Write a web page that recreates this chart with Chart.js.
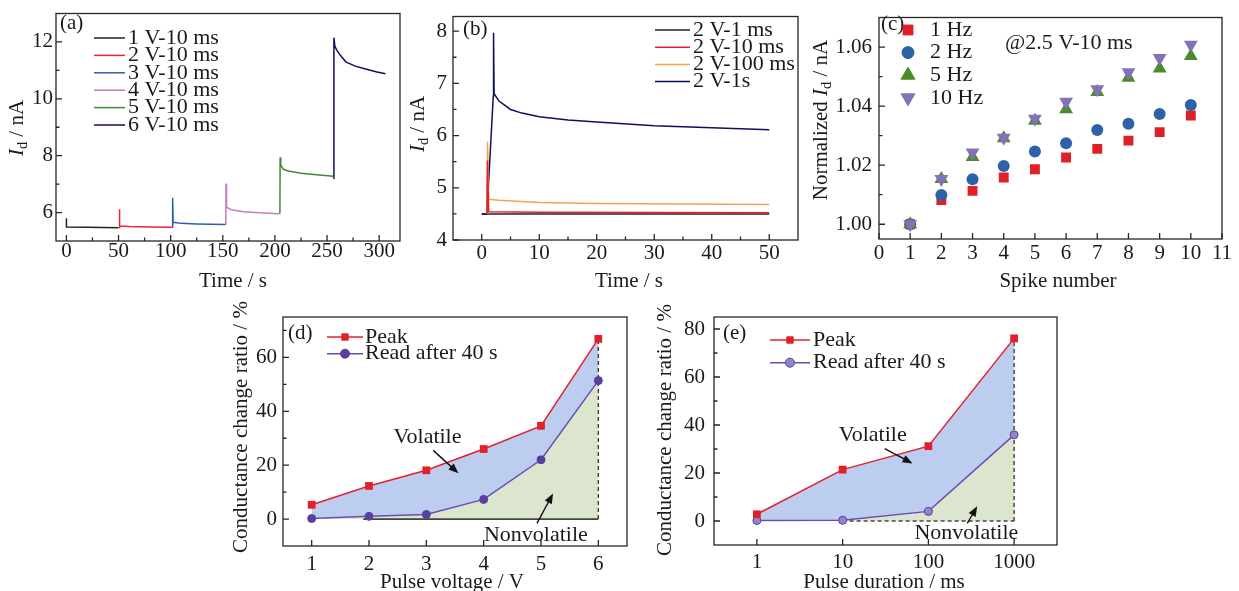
<!DOCTYPE html>
<html>
<head>
<meta charset="utf-8">
<title>Conductance figure</title>
<script src="https://cdn.jsdelivr.net/npm/chart.js@4.4.1/dist/chart.umd.min.js"></script>
<style>
  html, body { margin: 0; padding: 0; background: #fff; }
  #fig { position: relative; width: 1239px; height: 591px; overflow: hidden; }
  #fig canvas { position: absolute; left: 0; top: 0; }
</style>
</head>
<body>
<div id="fig">
  <canvas id="pa" width="1239" height="591"></canvas>
  <canvas id="pb" width="1239" height="591"></canvas>
  <canvas id="pc" width="1239" height="591"></canvas>
  <canvas id="pd" width="1239" height="591"></canvas>
  <canvas id="pe" width="1239" height="591"></canvas>
</div>
<script>
// ===========================================
// 5 panels: (a) pulse voltage, (b) pulse width, (c) spike number,
// (d)/(e) conductance change ratio (volatile / nonvolatile)
// ===========================================
const FONT = '"Liberation Serif", "Times New Roman", Times, serif';
const INK = '#1a1a1a';
const PAGE_W = 1239, PAGE_H = 591;
const TICK_SIZE = 21, TEXT_SIZE = 22, TITLE_SIZE = 21;

// ---------- (a) Id vs time, 1..6 V / 10 ms ----------
const aNames = ['1 V-10 ms', '2 V-10 ms', '3 V-10 ms', '4 V-10 ms', '5 V-10 ms', '6 V-10 ms'];
const aColors = ['#222222', '#e8262f', '#2b5fae', '#c17dbe', '#3d8b2f', '#0b115e'];
const a1T = [0, 0, 20, 50];
const a1I = [5.8, 5.49, 5.48, 5.47];
const a2T = [50.7, 50.8, 51.2, 60, 80, 101.5];
const a2I = [5.47, 6.12, 5.53, 5.51, 5.49, 5.48];
const a3T = [101.7, 101.9, 102.4, 110, 125, 152.5];
const a3I = [5.48, 6.52, 5.66, 5.62, 5.6, 5.58];
const a4T = [152.9, 153.1, 153.6, 158, 170, 185, 204.5];
const a4I = [5.57, 7.02, 6.19, 6.1, 6.03, 5.99, 5.96];
const a5T = [204.8, 205, 205.6, 208, 213, 225, 240, 256];
const a5I = [5.96, 7.94, 7.68, 7.52, 7.46, 7.38, 7.33, 7.28];
const a6T = [256.4, 256.6, 257.5, 259.5, 263, 268, 277, 287, 297, 306];
const a6I = [7.2, 12.15, 11.85, 11.7, 11.52, 11.3, 11.15, 11.05, 10.95, 10.88];
const aXTicks = [0, 50, 100, 150, 200, 250, 300];
const aXMinor = [25, 75, 125, 175, 225, 275];
const aYTicks = [6, 8, 10, 12];
const aYMinor = [7, 9, 11];

// ---------- (b) Id vs time, 2 V / 1 ms..1 s ----------
const bNames = ['2 V-1 ms', '2 V-10 ms', '2 V-100 ms', '2 V-1s'];
const bColors = ['#222222', '#e3202a', '#f7a24a', '#0b115e'];
const b1T = [0, 50];
const b1I = [4.5, 4.5];
const b2T = [0.9, 1.0, 1.2, 10, 50];
const b2I = [4.5, 5.52, 4.54, 4.53, 4.52];
const b3T = [0.9, 1.0, 1.2, 3, 10, 20, 35, 50];
const b3I = [4.5, 5.88, 4.78, 4.76, 4.72, 4.7, 4.69, 4.68];
const b4T = [0, 0.9, 2.0, 2.05, 2.15, 3, 5, 7, 10, 15, 20, 30, 40, 50];
const b4I = [4.5, 4.5, 6.75, 7.97, 6.8, 6.66, 6.5, 6.43, 6.36, 6.3, 6.26, 6.19, 6.15, 6.11];
const bXTicks = [0, 10, 20, 30, 40, 50];
const bXMinor = [5, 15, 25, 35, 45];
const bYTicks = [4, 5, 6, 7, 8];
const bYMinor = [4.5, 5.5, 6.5, 7.5];

// ---------- (c) normalized Id vs spike number ----------
const cNames = ['1 Hz', '2 Hz', '5 Hz', '10 Hz'];
const cColors = ['#e01f26', '#2e62a8', '#4c8b2b', '#8471b9'];
const cSpike = [1, 2, 3, 4, 5, 6, 7, 8, 9, 10];
const c1Hz = [1.000, 1.0082, 1.0113, 1.0158, 1.0186, 1.0226, 1.0255, 1.0283, 1.0312, 1.0368];
const c2Hz = [1.000, 1.0099, 1.0152, 1.0197, 1.0246, 1.0274, 1.0319, 1.0340, 1.0373, 1.0404];
const c5Hz = [1.000, 1.0153, 1.0228, 1.0291, 1.0350, 1.0389, 1.0448, 1.0496, 1.0527, 1.0570];
const c10Hz = [1.000, 1.0153, 1.0243, 1.0293, 1.0357, 1.0415, 1.0457, 1.0515, 1.0563, 1.0608];
const cXTicks = [0, 1, 2, 3, 4, 5, 6, 7, 8, 9, 10, 11];
const cYTicks = [1.00, 1.02, 1.04, 1.06];
const cYMinor = [1.01, 1.03, 1.05];

// ---------- (d) ratio vs pulse voltage ----------
const dVolt = [1, 2, 3, 4, 5, 6];
const dPeak = [5.3, 12.3, 18.1, 26.0, 34.6, 66.9];
const dRead = [0.2, 1.0, 1.7, 7.3, 22.0, 51.4];
const dXTicks = [1, 2, 3, 4, 5, 6];
const dYTicks = [0, 20, 40, 60];
const dYMinor = [10, 30, 50, 70];

// ---------- (e) ratio vs pulse duration ----------
const eDur = [1, 10, 100, 1000];
const ePeak = [2.8, 21.4, 31.2, 76.1];
const eRead = [0.2, 0.3, 4.0, 35.9];
const eXTicks = [1, 10, 100, 1000];
const eYTicks = [0, 20, 40, 60, 80];
const eYMinor = [10, 30, 50, 70];

const RED = '#e3202a';
const PURPLE = '#6550ad';
const BLUE_FILL = 'rgb(189,205,240)';
const GREEN_FILL = 'rgb(220,230,207)';

const xy = (xs, ys) => xs.map((x, i) => ({ x, y: ys[i] }));

// rich text: segments {t, i (italic), sub}
function rich(ctx, segs, x, y, size, align, rot) {
    const parts = typeof segs === 'string' ? [{ t: segs }] : segs;
    const fontOf = s => (s.i ? 'italic ' : '') + (s.sub ? size * 0.68 : size) + 'px ' + FONT;
    let w = 0;
    parts.forEach(s => { ctx.font = fontOf(s); s.w = ctx.measureText(s.t).width; w += s.w; });
    ctx.save();
    ctx.translate(x, y);
    if (rot) ctx.rotate(rot);
    let cx = align === 'left' ? 0 : align === 'right' ? -w : -w / 2;
    ctx.textAlign = 'left';
    ctx.textBaseline = 'middle';
    ctx.fillStyle = INK;
    parts.forEach(s => { ctx.font = fontOf(s); ctx.fillText(s.t, cx, s.sub ? size * 0.28 : 0); cx += s.w; });
    ctx.restore();
}

function arrow(ctx, x1, y1, x2, y2) {
    const ang = Math.atan2(y2 - y1, x2 - x1), hl = 10, hw = 4;
    ctx.strokeStyle = '#111'; ctx.fillStyle = '#111'; ctx.lineWidth = 1.4; ctx.setLineDash([]);
    ctx.beginPath();
    ctx.moveTo(x1, y1);
    ctx.lineTo(x2 - Math.cos(ang) * hl * 0.8, y2 - Math.sin(ang) * hl * 0.8);
    ctx.stroke();
    ctx.beginPath();
    ctx.moveTo(x2, y2);
    ctx.lineTo(x2 - Math.cos(ang) * hl + Math.sin(ang) * hw, y2 - Math.sin(ang) * hl - Math.cos(ang) * hw);
    ctx.lineTo(x2 - Math.cos(ang) * hl - Math.sin(ang) * hw, y2 - Math.sin(ang) * hl + Math.cos(ang) * hw);
    ctx.closePath();
    ctx.fill();
}

function marker(ctx, style, rotation, radius, x, y) {
    if (Chart.helpers && Chart.helpers.drawPoint) {
        Chart.helpers.drawPoint(ctx, { pointStyle: style, rotation: rotation || 0, radius, borderWidth: 1 }, x, y);
    } else {
        ctx.beginPath(); ctx.arc(x, y, radius, 0, Math.PI * 2); ctx.fill();
    }
}

// frame, inner ticks, titles, legend, annotations
const deco = {
    id: 'deco',
    afterDraw(chart, args, o) {
        const ctx = chart.ctx, a = chart.chartArea;
        const sx = chart.scales.x, sy = chart.scales.y;
        ctx.save();
        ctx.strokeStyle = '#262626';
        ctx.lineWidth = 1.3;
        ctx.strokeRect(a.left, a.top, a.right - a.left, a.bottom - a.top);
        ctx.beginPath();
        const xt = (v, len) => { const p = sx.getPixelForValue(v); ctx.moveTo(p, a.bottom); ctx.lineTo(p, a.bottom - len); };
        const yt = (v, len) => { const p = sy.getPixelForValue(v); ctx.moveTo(a.left, p); ctx.lineTo(a.left + len, p); };
        sx.ticks.forEach(t => xt(t.value, 6));
        sy.ticks.forEach(t => yt(t.value, 6));
        (o.minorX || []).forEach(v => xt(v, 3.5));
        (o.minorY || []).forEach(v => yt(v, 3.5));
        ctx.stroke();

        rich(ctx, o.tag.t, o.tag.x, o.tag.y, TITLE_SIZE, 'left');
        rich(ctx, o.xTitle.t, o.xTitle.x, o.xTitle.y, TITLE_SIZE, 'center');
        rich(ctx, o.yTitle.t, o.yTitle.x, o.yTitle.y, TITLE_SIZE, 'center', -Math.PI / 2);

        const L = o.legend;
        if (L) {
            L.items.forEach((di, i) => {
                const ds = chart.data.datasets[di];
                const y = L.y + i * L.dy;
                if (L.x1 !== undefined) {
                    ctx.strokeStyle = ds.borderColor; ctx.lineWidth = ds.borderWidth || 1.5;
                    ctx.beginPath(); ctx.moveTo(L.x0, y); ctx.lineTo(L.x1, y); ctx.stroke();
                }
                if (L.mx !== undefined) {
                    ctx.fillStyle = ds.pointBackgroundColor;
                    ctx.strokeStyle = ds.pointBorderColor || ds.pointBackgroundColor;
                    ctx.lineWidth = 1;
                    marker(ctx, ds.pointStyle, ds.pointRotation, L.r || ds.pointRadius, L.mx, y);
                }
                rich(ctx, ds.label, L.tx, y, TEXT_SIZE, 'left');
            });
        }
        (o.notes || []).forEach(n => {
            const px = n.data ? sx.getPixelForValue(n.x) : n.x;
            const py = n.data ? sy.getPixelForValue(n.y) : n.y;
            rich(ctx, n.t, px, py, TEXT_SIZE, n.align || 'center');
        });
        (o.arrows || []).forEach(r => {
            arrow(ctx, sx.getPixelForValue(r[0]), sy.getPixelForValue(r[1]),
                sx.getPixelForValue(r[2]), sy.getPixelForValue(r[3]));
        });
        ctx.restore();
    }
};

const YW = 50, XH = 40;
function axis(o, isX) {
    return {
        type: o.type || 'linear', min: o.min, max: o.max, bounds: 'data',
        afterBuildTicks: s => { s.ticks = o.ticks.map(v => ({ value: v })); },
        afterFit: s => { if (isX) s.height = XH; else s.width = YW; },
        grid: { display: false, drawTicks: false },
        border: { display: false },
        ticks: {
            autoSkip: false, maxRotation: 0, minRotation: 0, padding: o.pad, color: INK,
            font: { family: FONT, size: TICK_SIZE, lineHeight: 1 },
            callback: o.fmt || (v => String(v))
        }
    };
}

function panel(id, box, cfg) {
    return new Chart(document.getElementById(id), {
        type: cfg.type || 'line',
        data: { datasets: cfg.datasets },
        options: {
            responsive: false, animation: false, devicePixelRatio: 1,
            layout: { autoPadding: false, padding: { left: box.l - YW, top: box.t, right: PAGE_W - box.r, bottom: PAGE_H - box.b - XH } },
            plugins: {
                legend: { display: false }, tooltip: { enabled: false },
                filler: { drawTime: 'beforeDatasetsDraw' },
                deco: cfg.deco
            },
            scales: { x: axis(cfg.x, true), y: axis(cfg.y, false) }
        },
        plugins: [deco]
    });
}

const lineSet = (names, colors, series, orders) => series.map(([t, v], i) => ({
    label: names[i], data: xy(t, v), borderColor: colors[i], borderWidth: 1.5,
    pointRadius: 0, fill: false, tension: 0, order: orders ? orders[i] : 0
}));

const IdTitle = [{ t: 'I', i: 1 }, { t: 'd', sub: 1 }, { t: ' / nA' }];

// (a)
panel('pa', { l: 56, t: 10, r: 400, b: 241 }, {
    datasets: lineSet(aNames, aColors, [[a1T, a1I], [a2T, a2I], [a3T, a3I], [a4T, a4I], [a5T, a5I], [a6T, a6I]]),
    x: { min: -10, max: 320, ticks: aXTicks, pad: 0 },
    y: { min: 5, max: 13, ticks: aYTicks, pad: 3 },
    deco: {
        minorX: aXMinor, minorY: aYMinor,
        tag: { t: '(a)', x: 60, y: 23 },
        xTitle: { t: 'Time / s', x: 233, y: 281 },
        yTitle: { t: IdTitle, x: 17, y: 128 },
        legend: { items: [0, 1, 2, 3, 4, 5], x0: 94, x1: 125, tx: 128, y: 38, dy: 17.4 }
    }
});

// (b)
panel('pb', { l: 453, t: 10, r: 798, b: 240 }, {
    datasets: lineSet(bNames, bColors, [[b1T, b1I], [b2T, b2I], [b3T, b3I], [b4T, b4I]], [3, 0, 1, 2]),
    x: { min: -5, max: 55, ticks: bXTicks, pad: 3 },
    y: { min: 4, max: 8.28, ticks: bYTicks, pad: 6 },
    deco: {
        minorX: bXMinor, minorY: bYMinor,
        tag: { t: '(b)', x: 463, y: 29 },
        xTitle: { t: 'Time / s', x: 629, y: 281 },
        yTitle: { t: IdTitle, x: 418, y: 124 },
        legend: { items: [0, 1, 2, 3], x0: 655, x1: 690, tx: 693, y: 30, dy: 17.2 }
    }
});

// (c)
const cStyles = [['rect', 0, 7], ['circle', 0, 6], ['triangle', 0, 8], ['triangle', 180, 8]];
panel('pc', { l: 879, t: 10, r: 1222, b: 239 }, {
    type: 'scatter',
    datasets: [c1Hz, c2Hz, c5Hz, c10Hz].map((v, i) => ({
        label: cNames[i], data: xy(cSpike, v), showLine: false,
        pointStyle: cStyles[i][0], pointRotation: cStyles[i][1], pointRadius: cStyles[i][2],
        pointBackgroundColor: cColors[i], pointBorderColor: cColors[i], pointBorderWidth: 0,
        order: 4 - i
    })),
    x: { min: 0, max: 11, ticks: cXTicks, pad: 4 },
    y: { min: 0.995, max: 1.07, ticks: cYTicks, pad: 7, fmt: v => v.toFixed(2) },
    deco: {
        minorY: cYMinor,
        tag: { t: '(c)', x: 881, y: 24 },
        xTitle: { t: 'Spike number', x: 1058, y: 281 },
        yTitle: { t: [{ t: 'Normalized ' }, { t: 'I', i: 1 }, { t: 'd', sub: 1 }, { t: ' / nA' }], x: 821, y: 120 },
        legend: { items: [0, 1, 2, 3], mx: 908, tx: 930, y: 30, dy: 22.6 },
        notes: [{ t: '@2.5 V-10 ms', x: 1005, y: 43, align: 'left' }]
    }
});

// (d) / (e) share the same look
function ratioSets(xs, peak, read, readFill, dashH0) {
    const n = xs.length - 1;
    return [
        { label: 'Peak', data: xy(xs, peak), borderColor: RED, borderWidth: 1.5, backgroundColor: BLUE_FILL, fill: '+1',
          pointStyle: 'rect', pointRadius: 5.5, pointBackgroundColor: RED, pointBorderColor: RED, pointBorderWidth: 0 },
        { label: 'Read after 40 s', data: xy(xs, read), borderColor: PURPLE, borderWidth: 1.5, backgroundColor: GREEN_FILL, fill: { value: 0 },
          pointStyle: 'circle', pointRadius: 4, pointBackgroundColor: readFill, pointBorderColor: '#55409c', pointBorderWidth: 1 },
        { label: 'v', data: xy([xs[n], xs[n]], [0, peak[n]]), borderColor: '#333', borderWidth: 1.3, borderDash: [4, 3], pointRadius: 0, fill: false },
        { label: 'h', data: xy([dashH0, xs[n]], [0, 0]), borderColor: '#444', borderWidth: dashH0 === 10 ? 1.3 : 1.8,
          borderDash: dashH0 === 10 ? [4, 3] : [], pointRadius: 0, fill: false }
    ];
}

const ratioTitle = 'Conductance change ratio / %';

panel('pd', { l: 283, t: 317, r: 627, b: 546 }, {
    datasets: ratioSets(dVolt, dPeak, dRead, '#5a3f9e', 1.9),
    x: { min: 0.5, max: 6.5, ticks: dXTicks, pad: 8 },
    y: { min: -10, max: 75, ticks: dYTicks, pad: 6 },
    deco: {
        minorY: dYMinor,
        tag: { t: '(d)', x: 288, y: 333 },
        xTitle: { t: 'Pulse voltage / V', x: 452, y: 582 },
        yTitle: { t: ratioTitle, x: 241, y: 427 },
        legend: { items: [0, 1], x0: 327, x1: 363, mx: 345, r: 4.5, tx: 365, y: 337, dy: 16.7 },
        notes: [{ t: 'Volatile', x: 3.02, y: 30.3, data: true }, { t: 'Nonvolatile', x: 4.91, y: -6.0, data: true }],
        arrows: [[3.12, 25.5, 3.56, 17.0], [4.93, -1.6, 5.21, 9.5]]
    }
});

panel('pe', { l: 714, t: 317, r: 1057, b: 545 }, {
    datasets: ratioSets(eDur, ePeak, eRead, '#9484cc', 10),
    x: { type: 'logarithmic', min: 0.3162, max: 3162, ticks: eXTicks, pad: 7 },
    y: { min: -10, max: 85, ticks: eYTicks, pad: 9 },
    deco: {
        minorY: eYMinor,
        tag: { t: '(e)', x: 723, y: 333 },
        xTitle: { t: 'Pulse duration / ms', x: 884, y: 582 },
        yTitle: { t: ratioTitle, x: 665, y: 430 },
        legend: { items: [0, 1], x0: 770, x1: 810, mx: 790, r: 4.5, tx: 813, y: 340, dy: 22.7 },
        notes: [{ t: 'Volatile', x: 22.4, y: 35.6, data: true }, { t: 'Nonvolatile', x: 277, y: -5.1, data: true }],
        arrows: [[30.9, 30.2, 65.3, 24.0], [284, -1.0, 371, 6.1]]
    }
});
</script>
</body>
</html>
